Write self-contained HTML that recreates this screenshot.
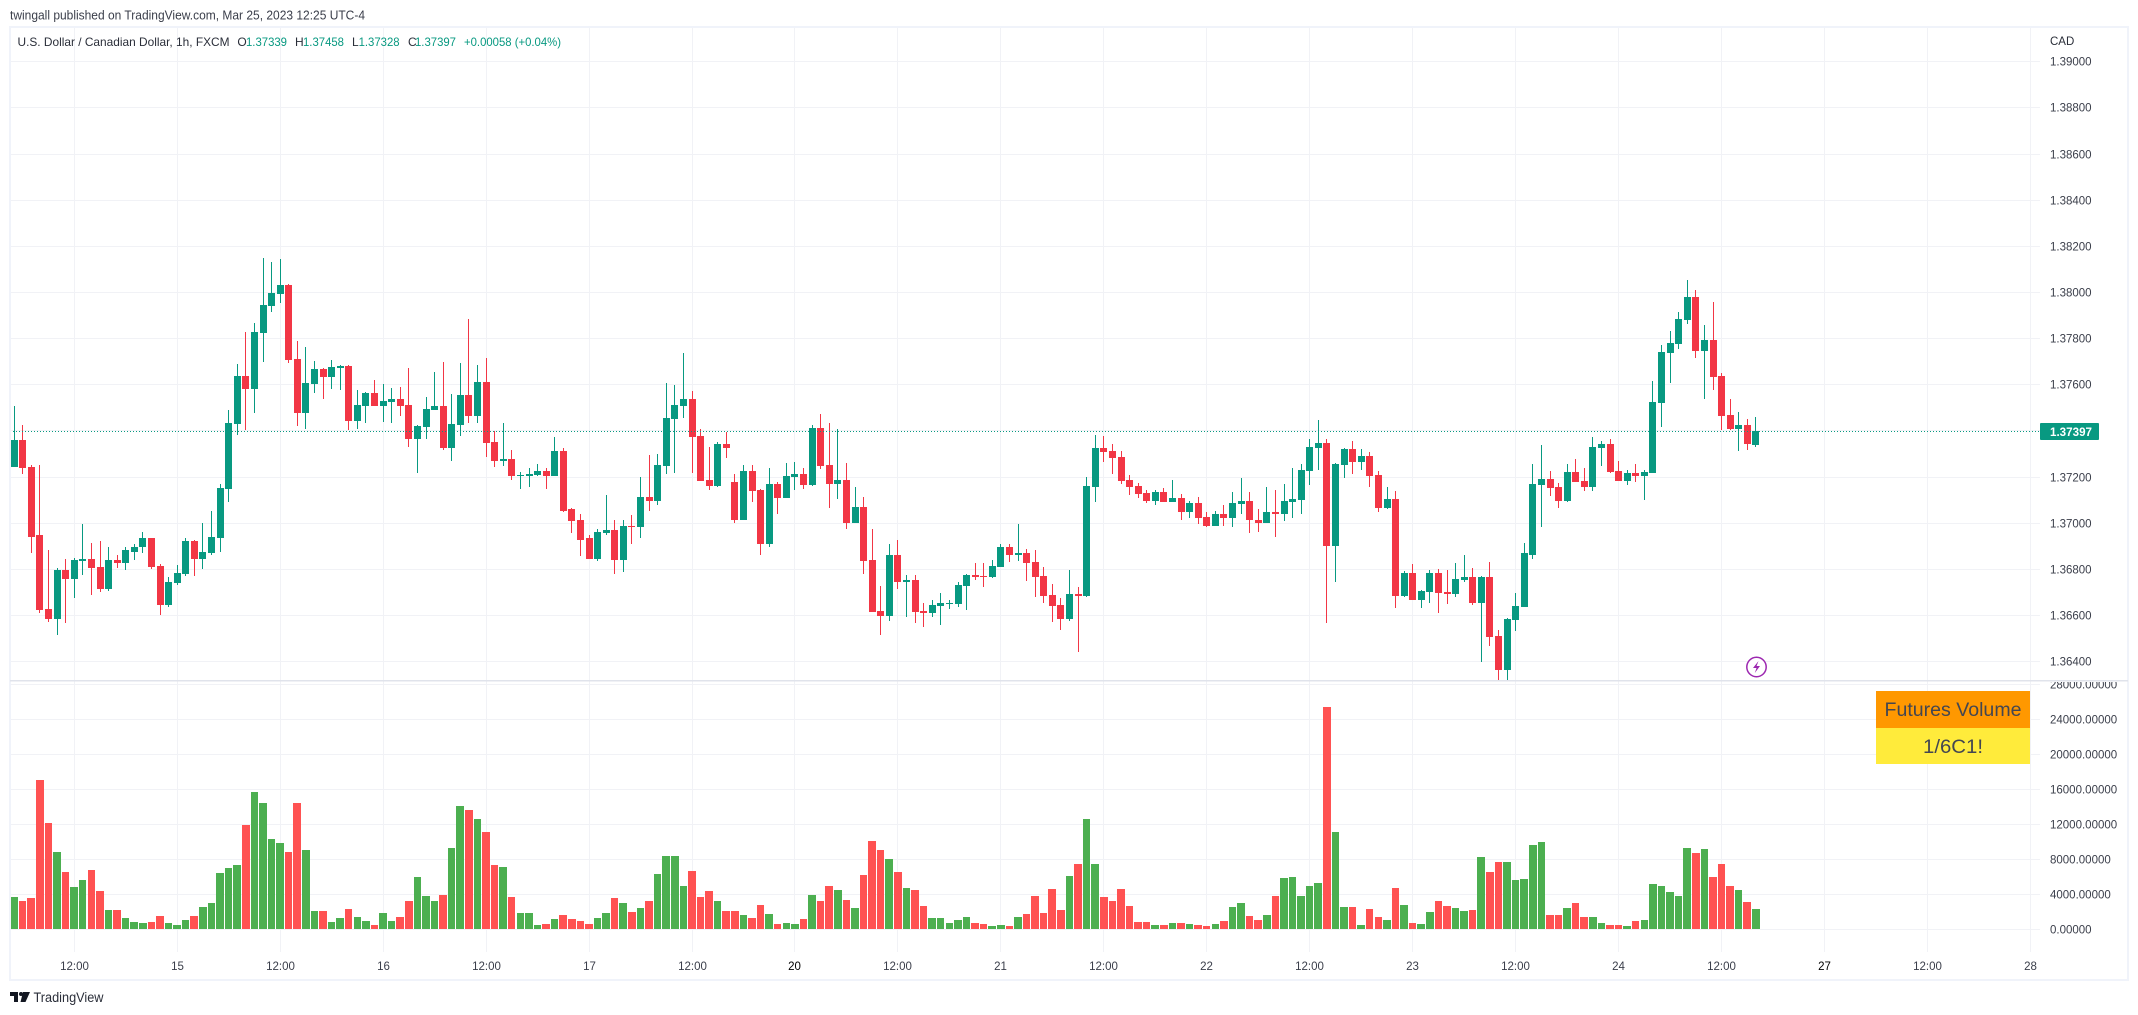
<!DOCTYPE html>
<html lang="en">
<head>
<meta charset="utf-8">
<title>USD/CAD 1h chart with futures volume</title>
<style>
html,body{margin:0;padding:0;background:#fff;width:2138px;height:1015px;overflow:hidden}
svg{display:block;font-family:"Liberation Sans",sans-serif}
text{white-space:pre}
</style>
</head>
<body>
<svg id="chart" xmlns="http://www.w3.org/2000/svg" width="2138" height="1015" viewBox="0 0 2138 1015">
  <defs>
    <clipPath id="price-clip"><rect x="10" y="28" width="2030" height="652"/></clipPath>
    <clipPath id="volume-label-clip"><rect x="2040" y="682" width="90" height="297"/></clipPath>
  </defs>
  <rect x="0" y="0" width="2138" height="1015" fill="#ffffff"/>
  <g id="grid"></g>
  <g id="volume-bars"></g>
  <g id="candles" clip-path="url(#price-clip)"></g>
  <line x1="10" x2="2040" y1="431.5" y2="431.5" stroke="#089981" stroke-width="1" stroke-dasharray="1 2"/>
  <g id="price-axis"></g>
  <g id="volume-axis" clip-path="url(#volume-label-clip)"></g>
  <g id="time-axis"></g>

  <rect x="9" y="26" width="2120" height="2" fill="#f0f3fa"/>
  <rect x="9" y="26" width="2" height="955" fill="#f0f3fa"/>
  <rect x="2127" y="26" width="2" height="955" fill="#f0f3fa"/>
  <rect x="9" y="979" width="2120" height="2" fill="#f0f3fa"/>
  <rect x="10" y="680" width="2118" height="1.5" fill="#e0e3eb"/>

  <text x="10" y="19.5" font-size="12.5" fill="#3a3e4a" textLength="355" lengthAdjust="spacingAndGlyphs">twingall published on TradingView.com, Mar 25, 2023 12:25 UTC-4</text>

  <g font-size="12">
    <text x="17.5" y="46" fill="#2a2e39" textLength="212" lengthAdjust="spacingAndGlyphs">U.S. Dollar / Canadian Dollar, 1h, FXCM</text>
    <text x="237.4" y="46" fill="#2a2e39">O</text>
    <text x="246" y="46" fill="#089981" textLength="41" lengthAdjust="spacingAndGlyphs">1.37339</text>
    <text x="295" y="46" fill="#2a2e39">H</text>
    <text x="303" y="46" fill="#089981" textLength="41" lengthAdjust="spacingAndGlyphs">1.37458</text>
    <text x="352" y="46" fill="#2a2e39">L</text>
    <text x="358.6" y="46" fill="#089981" textLength="41" lengthAdjust="spacingAndGlyphs">1.37328</text>
    <text x="408" y="46" fill="#2a2e39">C</text>
    <text x="415" y="46" fill="#089981" textLength="41" lengthAdjust="spacingAndGlyphs">1.37397</text>
    <text x="464" y="46" fill="#089981" textLength="97" lengthAdjust="spacingAndGlyphs">+0.00058 (+0.04%)</text>
  </g>

  <text x="2050" y="45" font-size="11.5" fill="#2a2e39">CAD</text>

  <g>
    <rect x="2040" y="423" width="59" height="17" rx="1" fill="#089981"/>
    <text x="2050" y="436" font-size="12" font-weight="bold" fill="#ffffff" textLength="42" lengthAdjust="spacingAndGlyphs">1.37397</text>
  </g>

  <g>
    <circle cx="1756.5" cy="667" r="9.7" fill="#ffffff" stroke="#9c27b0" stroke-width="1.5"/>
    <path d="M1758.5 661 L1753 668 L1756.5 668 L1754.8 673 L1760 666 L1756.6 666 Z" fill="#9c27b0"/>
  </g>

  <g>
    <rect x="1876" y="691" width="154" height="37" fill="#ff9800"/>
    <text x="1953" y="716" font-size="19" text-anchor="middle" fill="#434651" textLength="137" lengthAdjust="spacingAndGlyphs">Futures Volume</text>
    <rect x="1876" y="728" width="154" height="36" fill="#ffeb3b"/>
    <text x="1953" y="753" font-size="19" text-anchor="middle" fill="#434651" textLength="60" lengthAdjust="spacingAndGlyphs">1/6C1!</text>
  </g>

  <g>
    <path d="M10 992 H18 V1002 H14 V996 H10 Z M23 992 H30 L25.5 1002 H20.5 Z" fill="#131722"/>
    <circle cx="21" cy="994" r="2" fill="#131722"/>
    <text x="33.5" y="1002" font-size="13.5" fill="#2a2e39" textLength="70" lengthAdjust="spacingAndGlyphs">TradingView</text>
  </g>
</svg>
<script>
const opens = [
1.37240,1.37358,1.37240,1.36945,1.36627,1.36584,1.36797,1.36758,1.36836,1.36845,
1.36810,1.36714,1.36840,1.36827,1.36875,1.36893,1.36932,1.36814,1.36645,1.36741,
1.36780,1.36923,1.36845,1.36871,1.36936,1.37145,1.37427,1.37636,1.37579,1.37823,
1.37940,1.37992,1.38032,1.37710,1.37475,1.37601,1.37666,1.37632,1.37671,1.37679,
1.37440,1.37506,1.37562,1.37506,1.37523,1.37536,1.37510,1.37362,1.37414,1.37488,
1.37506,1.37323,1.37423,1.37553,1.37462,1.37610,1.37349,1.37267,1.37275,1.37201,
1.37201,1.37206,1.37223,1.37201,1.37310,1.37058,1.37010,1.36932,1.36845,1.36954,
1.36967,1.36840,1.36988,1.36980,1.37110,1.37093,1.37245,1.37449,1.37506,1.37536,
1.37375,1.37184,1.37158,1.37340,1.37175,1.37014,1.37223,1.37140,1.36910,1.37167,
1.37106,1.37197,1.37210,1.37162,1.37410,1.37249,1.37167,1.37184,1.37001,1.37067,
1.36840,1.36619,1.36597,1.36862,1.36745,1.36754,1.36619,1.36610,1.36641,1.36649,
1.36649,1.36727,1.36775,1.36771,1.36767,1.36810,1.36893,1.36862,1.36867,1.36832,
1.36771,1.36688,1.36645,1.36584,1.36693,1.36684,1.37153,1.37323,1.37310,1.37284,
1.37184,1.37158,1.37127,1.37093,1.37132,1.37088,1.37106,1.37045,1.37084,1.37023,
1.36988,1.37036,1.37019,1.37080,1.37093,1.37014,1.36997,1.37045,1.37036,1.37088,
1.37097,1.37223,1.37323,1.37345,1.36901,1.37249,1.37319,1.37262,1.37288,1.37206,
1.37062,1.37101,1.36684,1.36784,1.36667,1.36701,1.36784,1.36701,1.36693,1.36754,
1.36767,1.36654,1.36767,1.36510,1.36362,1.36580,1.36636,1.36862,1.37162,1.37188,
1.37153,1.37093,1.37219,1.37180,1.37153,1.37323,1.37340,1.37223,1.37180,1.37214,
1.37201,1.37214,1.37519,1.37736,1.37775,1.37879,1.37979,1.37745,1.37792,1.37636,
1.37466,1.37406,1.37423,1.37339];
const highs = [
1.37506,1.37423,1.37249,1.37249,1.36884,1.36806,1.36845,1.36849,1.36993,1.36914,
1.36923,1.36893,1.36862,1.36893,1.36906,1.36962,1.36936,1.36823,1.36767,1.36819,
1.36932,1.36927,1.36997,1.37053,1.37167,1.37488,1.37688,1.37827,1.37866,1.38149,
1.38132,1.38145,1.38036,1.37788,1.37762,1.37701,1.37670,1.37706,1.37684,1.37684,
1.37575,1.37566,1.37619,1.37601,1.37584,1.37588,1.37671,1.37423,1.37545,1.37653,
1.37697,1.37558,1.37693,1.37884,1.37684,1.37714,1.37397,1.37432,1.37314,1.37219,
1.37236,1.37253,1.37236,1.37371,1.37323,1.37062,1.37036,1.36949,1.36975,1.37119,
1.37010,1.37010,1.37032,1.37197,1.37293,1.37297,1.37606,1.37597,1.37736,1.37571,
1.37406,1.37327,1.37349,1.37393,1.37210,1.37249,1.37249,1.37145,1.37236,1.37175,
1.37258,1.37262,1.37236,1.37423,1.37471,1.37432,1.37406,1.37258,1.37153,1.37110,
1.36971,1.36727,1.36910,1.36927,1.36775,1.36775,1.36654,1.36667,1.36697,1.36667,
1.36745,1.36778,1.36827,1.36827,1.36840,1.36906,1.36906,1.36993,1.36888,1.36880,
1.36810,1.36736,1.36675,1.36797,1.36723,1.37197,1.37380,1.37375,1.37340,1.37310,
1.37206,1.37171,1.37140,1.37140,1.37149,1.37184,1.37123,1.37093,1.37110,1.37045,
1.37053,1.37075,1.37132,1.37193,1.37132,1.37058,1.37153,1.37140,1.37167,1.37236,
1.37253,1.37362,1.37445,1.37362,1.37257,1.37323,1.37353,1.37319,1.37306,1.37223,
1.37153,1.37136,1.36793,1.36823,1.36710,1.36797,1.36801,1.36797,1.36827,1.36862,
1.36806,1.36771,1.36832,1.36536,1.36588,1.36697,1.36914,1.37253,1.37336,1.37223,
1.37171,1.37253,1.37275,1.37236,1.37371,1.37353,1.37362,1.37266,1.37227,1.37253,
1.37227,1.37614,1.37771,1.37832,1.37914,1.38053,1.38010,1.37858,1.37958,1.37649,
1.37536,1.37480,1.37449,1.37458];
const lows = [
1.37240,1.37210,1.36867,1.36610,1.36571,1.36514,1.36567,1.36675,1.36775,1.36688,
1.36701,1.36706,1.36806,1.36797,1.36840,1.36871,1.36801,1.36601,1.36636,1.36732,
1.36771,1.36771,1.36801,1.36862,1.36875,1.37088,1.37380,1.37401,1.37475,1.37697,
1.37914,1.37953,1.37693,1.37419,1.37406,1.37562,1.37536,1.37579,1.37575,1.37400,
1.37406,1.37432,1.37506,1.37436,1.37432,1.37462,1.37327,1.37214,1.37362,1.37488,
1.37314,1.37267,1.37375,1.37432,1.37432,1.37284,1.37240,1.37245,1.37184,1.37145,
1.37153,1.37201,1.37145,1.37201,1.37045,1.36954,1.36858,1.36845,1.36836,1.36949,
1.36780,1.36788,1.36906,1.36936,1.37053,1.37075,1.37210,1.37214,1.37453,1.37214,
1.37180,1.37140,1.37153,1.37280,1.36997,1.37014,1.37088,1.36862,1.36893,1.37040,
1.37106,1.37140,1.37145,1.37158,1.37232,1.37062,1.37101,1.36971,1.36997,1.36780,
1.36614,1.36514,1.36575,1.36714,1.36593,1.36567,1.36549,1.36593,1.36558,1.36627,
1.36636,1.36623,1.36754,1.36723,1.36762,1.36810,1.36832,1.36836,1.36749,1.36680,
1.36654,1.36571,1.36536,1.36575,1.36441,1.36680,1.37088,1.37262,1.37210,1.37167,
1.37119,1.37106,1.37084,1.37075,1.37088,1.37088,1.37014,1.37019,1.36993,1.36980,
1.36984,1.36988,1.36980,1.37040,1.36954,1.36962,1.36997,1.36940,1.37006,1.37019,
1.37040,1.37162,1.37227,1.36567,1.36745,1.37193,1.37210,1.37227,1.37153,1.37045,
1.37058,1.36632,1.36680,1.36667,1.36632,1.36654,1.36610,1.36649,1.36680,1.36745,
1.36645,1.36397,1.36467,1.36319,1.36319,1.36532,1.36636,1.36845,1.36980,1.37114,
1.37062,1.37088,1.37175,1.37136,1.37136,1.37245,1.37214,1.37180,1.37162,1.37175,
1.37097,1.37214,1.37414,1.37606,1.37753,1.37862,1.37714,1.37536,1.37575,1.37401,
1.37401,1.37310,1.37314,1.37328];
const closes = [
1.37358,1.37236,1.36940,1.36623,1.36584,1.36797,1.36758,1.36840,1.36845,1.36806,
1.36714,1.36840,1.36827,1.36880,1.36897,1.36932,1.36810,1.36645,1.36745,1.36784,
1.36923,1.36845,1.36875,1.36940,1.37149,1.37432,1.37636,1.37579,1.37827,1.37945,
1.37997,1.38032,1.37706,1.37475,1.37606,1.37666,1.37632,1.37675,1.37679,1.37440,
1.37510,1.37562,1.37506,1.37527,1.37536,1.37506,1.37362,1.37419,1.37493,1.37506,
1.37323,1.37427,1.37553,1.37462,1.37610,1.37345,1.37267,1.37275,1.37201,1.37206,
1.37210,1.37223,1.37201,1.37310,1.37053,1.37006,1.36927,1.36845,1.36958,1.36967,
1.36840,1.36988,1.36980,1.37110,1.37093,1.37249,1.37453,1.37510,1.37536,1.37371,
1.37180,1.37158,1.37340,1.37323,1.37014,1.37223,1.37136,1.36910,1.37167,1.37106,
1.37201,1.37210,1.37162,1.37410,1.37245,1.37167,1.37184,1.37001,1.37067,1.36836,
1.36614,1.36597,1.36862,1.36745,1.36754,1.36614,1.36610,1.36645,1.36654,1.36654,
1.36732,1.36775,1.36767,1.36767,1.36814,1.36893,1.36862,1.36867,1.36827,1.36767,
1.36684,1.36641,1.36584,1.36693,1.36684,1.37158,1.37323,1.37306,1.37280,1.37180,
1.37153,1.37123,1.37093,1.37132,1.37088,1.37106,1.37045,1.37084,1.37019,1.36988,
1.37036,1.37019,1.37084,1.37093,1.37010,1.36997,1.37045,1.37036,1.37093,1.37101,
1.37227,1.37327,1.37345,1.36901,1.37253,1.37319,1.37262,1.37288,1.37201,1.37062,
1.37101,1.36684,1.36784,1.36667,1.36706,1.36784,1.36697,1.36693,1.36758,1.36767,
1.36654,1.36767,1.36506,1.36362,1.36584,1.36641,1.36867,1.37167,1.37188,1.37149,
1.37093,1.37219,1.37175,1.37153,1.37327,1.37340,1.37219,1.37180,1.37214,1.37201,
1.37219,1.37523,1.37740,1.37779,1.37884,1.37979,1.37745,1.37792,1.37632,1.37462,
1.37406,1.37423,1.37340,1.37397];
const volumes = [
3660,3200,3540,17030,12120,8800,6520,4800,5600,6740,
4340,2170,2170,1260,800,690,800,1490,690,460,
1030,1490,2510,2970,6400,6970,7320,11890,15660,14400,
10290,9830,8800,14400,9030,2060,2060,800,1260,2290,
1370,910,460,1830,910,1370,3200,5940,3770,3200,
3890,9260,14060,13600,12570,11090,7320,7090,3660,1830,
1830,460,570,1140,1600,1140,910,570,1260,1830,
3540,2970,1940,2400,3200,6290,8340,8340,4910,6630,
3660,4340,3200,2060,2060,1600,1260,2740,1710,570,
690,570,1140,3890,3200,4910,4460,3310,2400,6170,
10060,9030,8000,6520,4690,4460,2630,1260,1260,690,
1030,1370,690,570,340,460,340,1370,1710,3770,
1830,4570,2170,6060,7430,12570,7430,3660,3200,4570,
2630,800,800,460,460,690,690,570,460,340,
570,910,2510,2970,1490,1030,1600,3770,5830,5940,
3770,4910,5260,25370,11090,2510,2510,460,2290,1370,
1030,4690,2740,690,610,1980,3240,2670,2440,2100,
2210,8270,6550,7700,7700,5640,5750,9640,9980,1640,
1640,2440,3010,1410,1410,720,500,500,380,950,
1070,5180,4950,4270,3810,9300,8720,9180,5980,7470,
4950,4500,3120,2320];
const volumeSides = [
"GRRRRGRGGR","RGRGGGRRGG","GRGGGGGRGG","GGRRGGRGGR","GGRGGRRGGG",
"RGGRGRRGRG","GGRGRRRRGG","RGRGRGGGGR","RRGRRGRRGR","GGRGRRGRGR",
"RRGRGRRGGG","GGRRGGRGRR","RRRGRGGRRR","RRRGRGRGRR","GRGGRRGRGG",
"GGGRGGRGRR","GRGRGGRRGG","RGRRGGGGGR","RGRRGGRRGR","GGGGGGRGRR",
"RGRG"];
const priceTicks = [1.39,1.388,1.386,1.384,1.382,1.38,1.378,1.376,1.374,1.372,1.37,1.368,1.366,1.364];
const volumeTicks = [28000,24000,20000,16000,12000,8000,4000,0];
const timeTickLabels = ["12:00","15","12:00","16","12:00","17","12:00","20","12:00","21","12:00","22","12:00","23","12:00","24","12:00","27","12:00","28"];
const weekStartLabels = ["20","27"];

const SVG_NS = "http://www.w3.org/2000/svg";
const UP_CANDLE = "#089981", DOWN_CANDLE = "#f23645";
const UP_VOLUME = "#4caf50", DOWN_VOLUME = "#ff5252";
const GRID = "#f1f2f6";
const sides = volumeSides.join("");

function xAxis(barIndex){ return 14.2 + 8.58 * barIndex; }
function priceAxis(price){ return 61.3 + (1.39 - price) / 0.002 * 46.15; }
function volumeAxis(volume){ return 929.3 - volume / 4000 * 35; }

function rect(parent, x, y, w, h, fill){
  const r = document.createElementNS(SVG_NS, "rect");
  r.setAttribute("x", x);
  r.setAttribute("y", y);
  r.setAttribute("width", w);
  r.setAttribute("height", h);
  r.setAttribute("fill", fill);
  parent.appendChild(r);
  return r;
}
function label(parent, x, y, str, fill){
  const t = document.createElementNS(SVG_NS, "text");
  t.setAttribute("x", x);
  t.setAttribute("y", y);
  t.setAttribute("font-size", "11.5");
  t.setAttribute("fill", fill);
  t.textContent = str;
  parent.appendChild(t);
  return t;
}

const gridGroup = document.getElementById("grid");
const candleGroup = document.getElementById("candles");
const volumeGroup = document.getElementById("volume-bars");
const priceAxisGroup = document.getElementById("price-axis");
const volumeAxisGroup = document.getElementById("volume-axis");
const timeAxisGroup = document.getElementById("time-axis");

timeTickLabels.forEach(function(text, k){
  const px = Math.round(xAxis(7 + 12 * k) - 0.5);
  const line = rect(gridGroup, px, 28, 1, 924, GRID);
  
  
  const isWeekStart = weekStartLabels.indexOf(text) >= 0;
  const tick = label(timeAxisGroup, px + 0.5, 970, text, isWeekStart ? "#000000" : "#3a3e4a");
  tick.setAttribute("text-anchor", "middle");
  
  
});

priceTicks.forEach(function(p){
  const py = Math.round(priceAxis(p));
  const line = rect(gridGroup, 10, py, 2030, 1, GRID);
  
  
  const tick = label(priceAxisGroup, 2050, py + 4.5, p.toFixed(5), "#3a3e4a");
  
  
});

volumeTicks.forEach(function(v){
  const py = Math.round(volumeAxis(v));
  const line = rect(gridGroup, 10, py, 2030, 1, GRID);
  
  
  const tick = label(volumeAxisGroup, 2050, py + 4.5, v.toFixed(5), "#3a3e4a");
  
  
});

volumes.forEach(function(v, i){
  const top = Math.round(volumeAxis(v));
  const base = Math.round(volumeAxis(0));
  const left = Math.round(xAxis(i) - 3.9);
  const right = Math.round(xAxis(i) + 3.65);
  const bar = rect(volumeGroup, left, top, right - left, Math.max(1, base - top), sides[i] === "G" ? UP_VOLUME : DOWN_VOLUME);
  
  
});

opens.forEach(function(open, i){
  const close = closes[i];
  const color = close >= open ? UP_CANDLE : DOWN_CANDLE;
  const cx = Math.round(xAxis(i) - 0.5);
  const hiY = Math.round(priceAxis(highs[i]));
  const loY = Math.round(priceAxis(lows[i]));
  const bodyTop = Math.round(priceAxis(Math.max(open, close)));
  const bodyBottom = Math.round(priceAxis(Math.min(open, close)));
  const wick = rect(candleGroup, cx, hiY, 1, Math.max(1, loY - hiY), color);
  
  
  const body = rect(candleGroup, cx - 3, bodyTop, 7, Math.max(1, bodyBottom - bodyTop), color);
  
  
});
</script>
</body>
</html>
